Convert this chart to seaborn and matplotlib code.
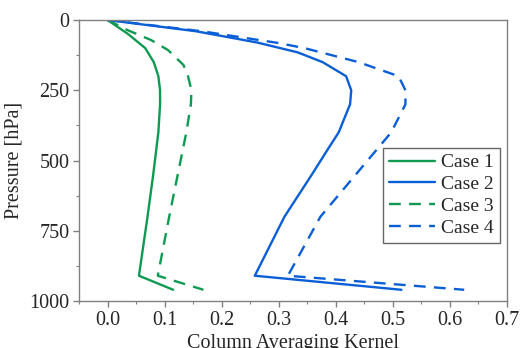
import matplotlib
matplotlib.use("Agg")
import matplotlib.pyplot as plt
import seaborn as sns
import pandas as pd
from matplotlib.ticker import MultipleLocator

# Data
case1_p = [0, 50, 100, 150, 200, 250, 300, 400, 550, 700, 910, 960]
case1_k = [0.0, 0.036, 0.066, 0.081, 0.089, 0.092, 0.092, 0.089, 0.080, 0.070, 0.055, 0.115]

case2_p = [0, 40, 80, 115, 150, 200, 250, 300, 400, 460, 550, 700, 910, 960]
case2_k = [0.0, 0.155, 0.262, 0.333, 0.377, 0.418, 0.427, 0.425, 0.405, 0.386, 0.358, 0.31, 0.258, 0.515]

case3_p = [0, 36, 71, 107, 160, 200, 250, 300, 400, 550, 700, 910, 960]
case3_k = [0.0, 0.035, 0.076, 0.106, 0.133, 0.141, 0.147, 0.146, 0.138, 0.123, 0.108, 0.088, 0.168]

case4_p = [0, 40, 82, 100, 150, 200, 250, 300, 400, 550, 700, 910, 960]
case4_k = [0.0, 0.165, 0.300, 0.345, 0.44, 0.51, 0.522, 0.522, 0.497, 0.435, 0.373, 0.316, 0.625]

case_names = ["Case 1", "Case 2", "Case 3", "Case 4"]

frames = []
for name, p, k in zip(case_names, [case1_p, case2_p, case3_p, case4_p],
                      [case1_k, case2_k, case3_k, case4_k]):
    frames.append(pd.DataFrame({"case": name, "pressure": p, "kernel": k}))
df = pd.concat(frames, ignore_index=True)

green = "#0f9a52"
blue = "#0a5fd6"
palette = {"Case 1": green, "Case 2": blue, "Case 3": green, "Case 4": blue}
dashes = {"Case 1": "", "Case 2": "", "Case 3": (5, 3.5), "Case 4": (5, 3.5)}

sns.set_style("white")
plt.rcParams["font.family"] = ["Liberation Serif", "DejaVu Serif"]
plt.rcParams["font.size"] = 14.5

fig = plt.figure(figsize=(5.2, 3.48), dpi=100)
ax = fig.add_axes([0.152, 0.135, 0.823, 0.8075])

sns.lineplot(data=df, x="kernel", y="pressure", hue="case", style="case",
             palette=palette, dashes=dashes, sort=False, estimator=None,
             units="case", linewidth=1.7, ax=ax)

ax.set_xlim(-0.05, 0.7)
ax.set_ylim(1000, 0)
ax.xaxis.set_major_locator(MultipleLocator(0.1))
ax.xaxis.set_minor_locator(MultipleLocator(0.05))
ax.yaxis.set_major_locator(MultipleLocator(250))
ax.yaxis.set_minor_locator(MultipleLocator(125))
ax.set_xticklabels([f"{v:.1f}" for v in ax.get_xticks()])
ax.tick_params(axis="both", which="major", direction="out", length=4, width=1,
               color="#808080", labelsize=14.5, bottom=True, left=True, pad=3)
ax.tick_params(axis="both", which="minor", direction="out", length=2.5, width=0.8,
               color="#808080", bottom=True, left=True)
for s in ax.spines.values():
    s.set_color("#808080")
    s.set_linewidth(1.0)

ax.set_xlabel("Column Averaging Kernel", fontsize=14.5, labelpad=3)
ax.set_ylabel("Pressure [hPa]", fontsize=14.5, labelpad=4)

leg = ax.legend(loc="upper right", bbox_to_anchor=(0.983, 0.545), fontsize=14,
                frameon=True, fancybox=False, handlelength=2.4, handletextpad=0.3,
                borderpad=0.3, labelspacing=0.22, borderaxespad=0)
leg.get_frame().set_edgecolor("#404040")
leg.get_frame().set_linewidth(1.0)

fig.savefig("out.png", dpi=100)
